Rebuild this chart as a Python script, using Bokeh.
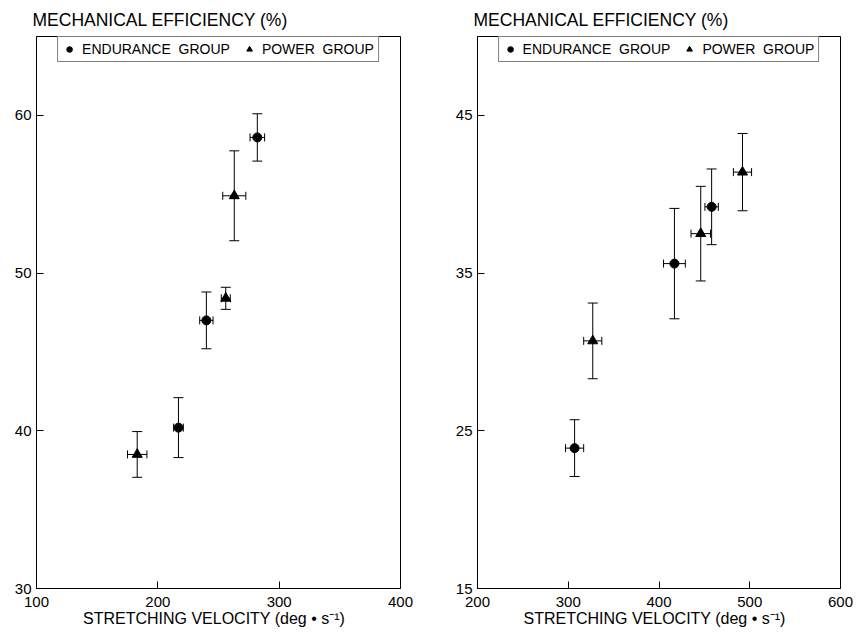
from bokeh.plotting import figure
from bokeh.models import ColumnDataSource, Whisker, Legend, LegendItem, FixedTicker, TeeHead, Range1d
from bokeh.layouts import row
from bokeh.embed import file_html
from bokeh.resources import INLINE

FONT = "Liberation Sans"

# ---- Left panel data ----
L_end_x = [217, 240, 282]
L_end_y = [40.2, 47.0, 58.6]
L_end_xerr = [4, 5.5, 6]
L_end_yerr = [1.9, 1.8, 1.5]

L_pow_x = [183, 256, 263]
L_pow_y = [38.5, 48.4, 54.9]
L_pow_xerr = [8, 3.7, 9.5]
L_pow_yerr = [1.45, 0.7, 2.85]

# ---- Right panel data ----
R_end_x = [307, 417, 458]
R_end_y = [23.9, 35.6, 39.2]
R_end_xerr = [10, 12, 7.4]
R_end_yerr = [1.8, 3.5, 2.4]

R_pow_x = [327, 446, 492]
R_pow_y = [30.7, 37.5, 41.4]
R_pow_xerr = [10, 10.7, 10]
R_pow_yerr = [2.4, 3.0, 2.45]

L_xticks = [100, 200, 300, 400]
L_yticks = [30, 40, 50, 60]
R_xticks = [200, 300, 400, 500, 600]
R_yticks = [15, 25, 35, 45]

TITLE = "MECHANICAL  EFFICIENCY  (%)"
XLABEL = "STRETCHING  VELOCITY  (deg \u2022 s\u207b\u00b9)"


def make_panel(width, border_left, border_right, xr, yr, xticks, yticks,
               ex, ey, exe, eye, px, py, pxe, pye):
    p = figure(width=width, height=638, x_range=Range1d(*xr), y_range=Range1d(*yr),
               output_backend="svg", toolbar_location=None,
               min_border_left=border_left, min_border_right=border_right,
               min_border_top=36, min_border_bottom=50)
    p.grid.visible = False
    p.outline_line_color = "black"
    p.outline_line_width = 1
    p.background_fill_color = "white"
    p.border_fill_color = "white"

    p.title.text = TITLE
    p.title.align = "left"
    p.title.text_font = FONT
    p.title.text_font_size = "17.5px"
    p.title.text_font_style = "normal"
    p.title.text_color = "black"
    p.title.offset = -4
    p.title.standoff = 14

    for ax in (p.xaxis[0], p.yaxis[0]):
        ax.major_tick_in = 7
        ax.major_tick_out = 0
        ax.minor_tick_line_color = None
        ax.axis_line_color = "black"
        ax.major_tick_line_color = "black"
        ax.major_label_text_font = FONT
        ax.major_label_text_font_size = "15px"
        ax.major_label_text_color = "black"
    p.xaxis[0].ticker = FixedTicker(ticks=xticks)
    p.yaxis[0].ticker = FixedTicker(ticks=yticks)
    p.xaxis[0].major_label_standoff = 8
    p.yaxis[0].major_label_standoff = 5
    p.xaxis[0].axis_label = XLABEL
    p.xaxis[0].axis_label_text_font = FONT
    p.xaxis[0].axis_label_text_font_size = "16px"
    p.xaxis[0].axis_label_text_font_style = "normal"
    p.xaxis[0].axis_label_text_color = "black"
    p.xaxis[0].axis_label_standoff = 0

    def add_group(xs, ys, xe, ye, marker, size):
        src = ColumnDataSource(dict(
            x=xs, y=ys,
            yl=[y - e for y, e in zip(ys, ye)], yu=[y + e for y, e in zip(ys, ye)],
            xl=[x - e for x, e in zip(xs, xe)], xu=[x + e for x, e in zip(xs, xe)],
        ))
        wv = Whisker(source=src, base="x", lower="yl", upper="yu", dimension="height",
                     line_color="black", line_width=1,
                     upper_head=TeeHead(size=10, line_color="black"),
                     lower_head=TeeHead(size=10, line_color="black"))
        wh = Whisker(source=src, base="y", lower="xl", upper="xu", dimension="width",
                     line_color="black", line_width=1,
                     upper_head=TeeHead(size=8, line_color="black"),
                     lower_head=TeeHead(size=8, line_color="black"))
        p.add_layout(wv)
        p.add_layout(wh)
        r = p.scatter("x", "y", source=src, marker=marker, size=size,
                      fill_color="black", line_color="black")
        return r

    r1 = add_group(ex, ey, exe, eye, "circle", 9)
    r2 = add_group(px, py, pxe, pye, "triangle", 10)

    leg = Legend(items=[LegendItem(label="ENDURANCE  GROUP", renderers=[r1]),
                        LegendItem(label="POWER  GROUP", renderers=[r2])],
                 orientation="horizontal", location="top_center",
                 margin=0, padding=4, spacing=12,
                 glyph_width=14, glyph_height=14, label_standoff=6,
                 label_text_font=FONT, label_text_font_size="14px",
                 label_text_color="black",
                 border_line_color="black", border_line_width=1,
                 background_fill_alpha=1.0)
    p.add_layout(leg)
    return p


left = make_panel(438, 36, 38, (100, 400), (30, 65), L_xticks, L_yticks,
                  L_end_x, L_end_y, L_end_xerr, L_end_yerr,
                  L_pow_x, L_pow_y, L_pow_xerr, L_pow_yerr)
right = make_panel(422, 39, 20, (200, 600), (15, 50), R_xticks, R_yticks,
                   R_end_x, R_end_y, R_end_xerr, R_end_yerr,
                   R_pow_x, R_pow_y, R_pow_xerr, R_pow_yerr)

layout = row(left, right)
open("out.html", "w").write(file_html(layout, INLINE))
